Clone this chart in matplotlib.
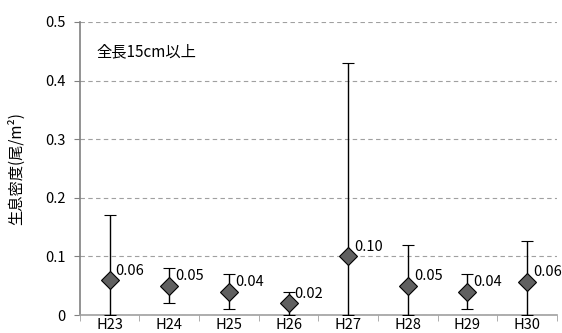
import matplotlib
matplotlib.use('Agg')
import matplotlib.pyplot as plt
import numpy as np

plt.rcParams['font.family'] = ['Noto Sans CJK JP', 'DejaVu Sans']

years = ['H23', 'H24', 'H25', 'H26', 'H27', 'H28', 'H29', 'H30']
density = [0.06, 0.05, 0.04, 0.02, 0.10, 0.05, 0.04, 0.057]
lower = [0.0, 0.02, 0.01, 0.0, 0.0, 0.0, 0.01, 0.0]
upper = [0.17, 0.08, 0.07, 0.04, 0.43, 0.12, 0.07, 0.126]
labels = ['0.06', '0.05', '0.04', '0.02', '0.10', '0.05', '0.04', '0.06']

fig = plt.figure(figsize=(5.62, 3.33), dpi=100)
ax = fig.add_axes([0.142, 0.054, 0.849, 0.880])

x = np.arange(len(years))
yerr = [np.array(density) - np.array(lower), np.array(upper) - np.array(density)]
ax.errorbar(x, density, yerr=yerr, fmt='D', color='black', ecolor='black',
            elinewidth=1.0, capsize=4, capthick=1.0,
            markerfacecolor='#606060', markeredgecolor='black',
            markeredgewidth=0.8, markersize=9, zorder=3)

for xi, yi, lab in zip(x, density, labels):
    ax.text(xi + 0.1, yi + 0.004, lab, fontsize=10.5, ha='left', va='bottom')

ax.set_xlim(-0.5, len(years) - 0.5)
ax.set_ylim(0, 0.5)
ax.set_yticks([0, 0.1, 0.2, 0.3, 0.4, 0.5])
ax.set_yticklabels(['0', '0.1', '0.2', '0.3', '0.4', '0.5'], fontsize=10.5)
ax.set_xticks(x)
ax.set_xticklabels(years, fontsize=10.5)
ax.set_xticks(np.arange(-0.5, len(years), 1), minor=True)
ax.tick_params(axis='x', which='major', length=0, pad=2)
ax.tick_params(axis='x', which='minor', length=4, color='#a0a0a0')
ax.tick_params(axis='y', length=4, color='#808080', pad=6)

ax.yaxis.grid(True, linestyle=(0, (4, 3)), color='#a0a0a0', linewidth=0.8)
ax.set_axisbelow(True)
for s in ['top', 'right']:
    ax.spines[s].set_visible(False)
ax.spines['left'].set_color('#808080')
ax.spines['bottom'].set_color('#a0a0a0')
ax.spines['left'].set_linewidth(1.2)
ax.spines['bottom'].set_linewidth(1.2)

ax.set_ylabel('生息密度(尾/m²)', fontsize=11)
ax.yaxis.set_label_coords(-0.115, 0.5)
ax.text(0.035, 0.9, '全長15cm以上', transform=ax.transAxes, fontsize=11, va='center')

fig.savefig('out.png', dpi=100)
